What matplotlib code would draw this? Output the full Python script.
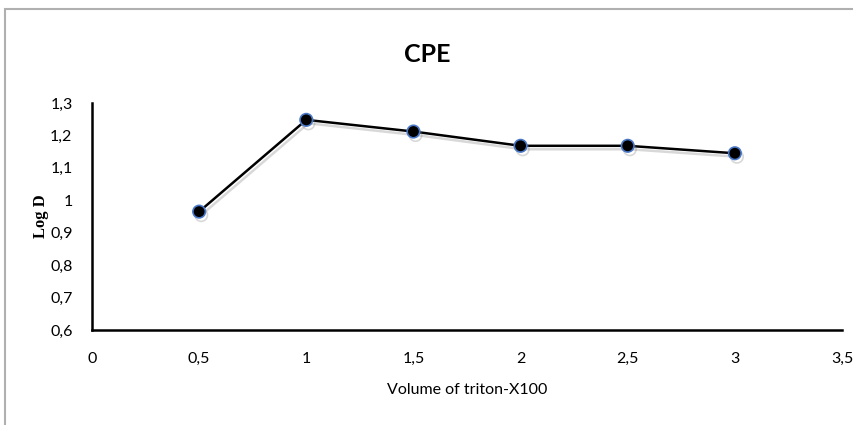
import matplotlib
matplotlib.use("Agg")
import matplotlib.pyplot as plt
import matplotlib.patheffects as pe
from matplotlib.patches import Rectangle
from matplotlib.ticker import FuncFormatter, MultipleLocator

# data
volume = [0.5, 1.0, 1.5, 2.0, 2.5, 3.0]
log_d = [0.965, 1.248, 1.212, 1.168, 1.168, 1.145]

plt.rcParams['font.family'] = ['Lato', 'DejaVu Sans']

fig = plt.figure(figsize=(8.54, 4.25), dpi=100)
ax = fig.add_axes([92 / 854, 1 - 330 / 425, 750 / 854, 227 / 425])

# chart frame (grey border, cut off at right/bottom like the screenshot)
fig.patches.append(Rectangle((5 / 854, -0.1), 1.2, 1 - 9 / 425 + 0.1,
                             transform=fig.transFigure, fill=False,
                             edgecolor='#b0b0b0', linewidth=1.5))

ax.plot(volume, log_d, color='black', linewidth=1.8, marker='o',
        markersize=9, markerfacecolor='black', markeredgecolor='#4a78c8',
        markeredgewidth=1.2,
        path_effects=[pe.SimpleLineShadow(offset=(1.5, -2.5), shadow_color='gray', alpha=0.3),
                      pe.Normal()])

ax.set_xlim(0, 3.5)
ax.set_ylim(0.6, 1.3)
ax.xaxis.set_major_locator(MultipleLocator(0.5))
ax.yaxis.set_major_locator(MultipleLocator(0.1))
comma = FuncFormatter(lambda v, p: ('%g' % round(v, 2)).replace('.', ','))
ax.xaxis.set_major_formatter(comma)
ax.yaxis.set_major_formatter(comma)
ax.tick_params(length=0, labelsize=11.5)
ax.tick_params(axis='x', pad=16)
ax.tick_params(axis='y', pad=14)

for s in ['top', 'right']:
    ax.spines[s].set_visible(False)
for s in ['left', 'bottom']:
    ax.spines[s].set_linewidth(1.8)
    ax.spines[s].set_color('black')

ax.set_xlabel('Volume of triton-X100', fontsize=11.5, labelpad=12)
ax.set_ylabel('Log D', fontsize=12, fontweight='bold', family='Liberation Serif', labelpad=1)
fig.text(0.5, 1 - 55 / 425, 'CPE', ha='center', va='center', fontsize=18, fontweight='bold')

fig.savefig('out.png', dpi=100)
